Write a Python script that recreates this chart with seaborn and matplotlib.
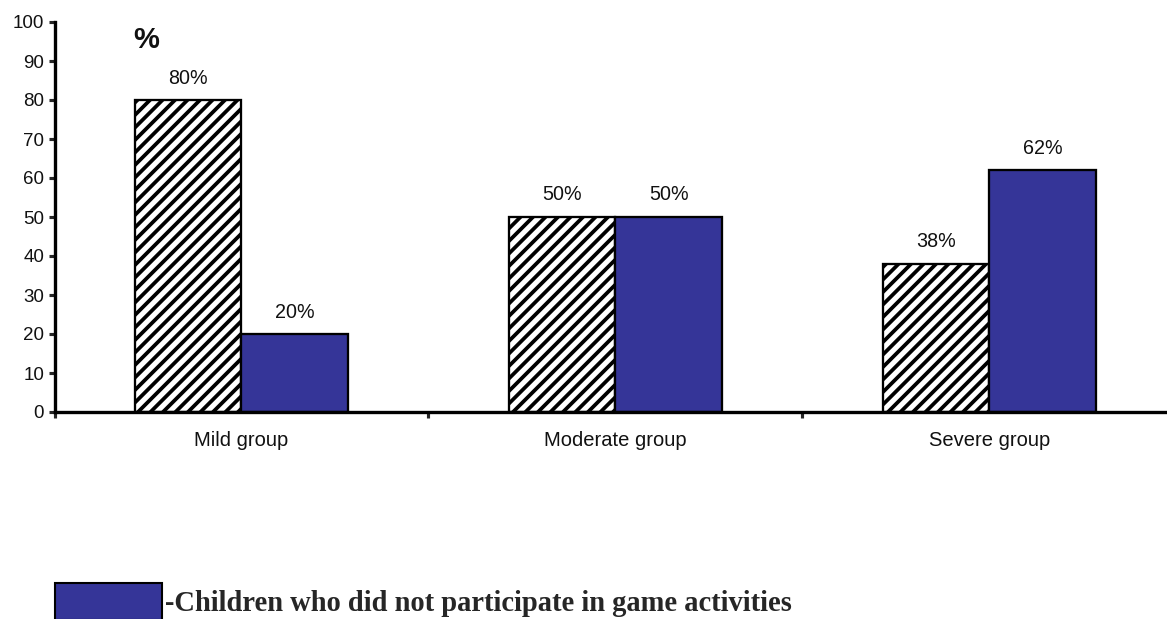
import matplotlib
matplotlib.use("Agg")
import matplotlib.pyplot as plt
import seaborn as sns
import pandas as pd

groups = ["Mild group", "Moderate group", "Severe group"]
series = ["Children who participated in game activities",
          "Children who did not participate in game activities"]
participated = [80, 50, 38]
not_participated = [20, 50, 62]
y_ticks = [0, 10, 20, 30, 40, 50, 60, 70, 80, 90, 100]

sns.set_theme(style="white")
plt.rcParams["font.family"] = ["Liberation Sans", "DejaVu Sans"]
plt.rcParams["hatch.linewidth"] = 1.8
plt.rcParams["hatch.color"] = "black"

df = pd.DataFrame({
    "group": groups * 2,
    "series": [series[0]] * 3 + [series[1]] * 3,
    "value": participated + not_participated,
})

DPI = 150
fig = plt.figure(figsize=(1167 / DPI, 619 / DPI), dpi=DPI)
ax = fig.add_axes([54.5 / 1167, 1 - 412 / 619, 1122 / 1167, 390 / 619])

sns.barplot(data=df, x="group", y="value", hue="series", hue_order=series,
            order=groups, palette=["white", "#353598"], width=0.572,
            gap=0, edgecolor="black", linewidth=1.1, saturation=1,
            legend=True, ax=ax)

for bar in ax.containers[0]:
    bar.set_hatch("////")

for cont in ax.containers:
    ax.bar_label(cont, labels=[f"{int(round(b.get_height()))}%" for b in cont],
                 padding=6, fontsize=9.5, color="#111111")

handles, labels = ax.get_legend_handles_labels()
ax.get_legend().remove()

ax.set_xlim(-0.5, 2.5)
ax.set_ylim(0, 100)
ax.set_yticks(y_ticks)
ax.set_xlabel("")
ax.set_ylabel("")
ax.tick_params(axis="y", which="major", left=True, length=3, width=1.5,
               direction="out", pad=2, labelsize=9, labelcolor="#111111")
ax.tick_params(axis="x", which="major", bottom=True, length=0, pad=9,
               labelsize=9.7, labelcolor="#111111")
ax.set_xticks([-0.5, 0.5, 1.5, 2.5], minor=True)
ax.tick_params(axis="x", which="minor", bottom=True, length=3, width=1.5,
               direction="out")

for s in ["top", "right"]:
    ax.spines[s].set_visible(False)
for s in ["left", "bottom"]:
    ax.spines[s].set_linewidth(1.6)
    ax.spines[s].set_color("black")

ax.text(0.0816, 0.954, "%", transform=ax.transAxes, ha="center", va="center",
        fontsize=14, fontweight="bold", color="#111111")

leg = fig.legend([handles[1]], ["-" + labels[1]], loc="upper left",
                 bbox_to_anchor=(55 / 1167, 1 - 583 / 619),
                 frameon=False, borderpad=0, borderaxespad=0,
                 handlelength=3.75, handleheight=1.6, handletextpad=0.12,
                 prop={"family": ["Liberation Serif", "DejaVu Serif"],
                       "size": 13.7, "weight": "bold"})
for h in leg.legend_handles:
    h.set_edgecolor("black")
    h.set_linewidth(1.0)

fig.savefig("out.png", dpi=DPI)
